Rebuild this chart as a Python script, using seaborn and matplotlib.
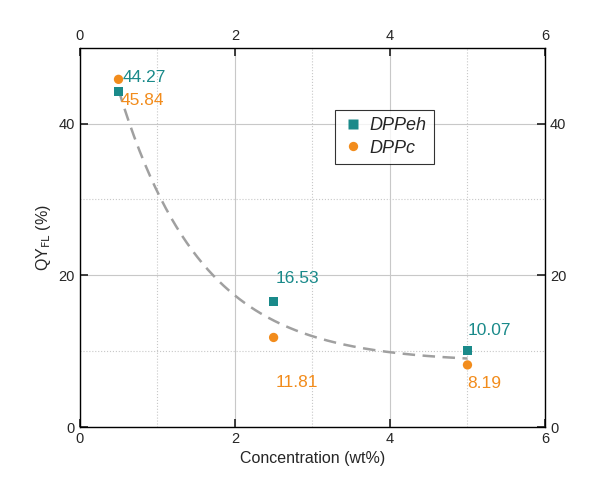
import numpy as np
import matplotlib
matplotlib.use("Agg")
import matplotlib.pyplot as plt
import seaborn as sns
import pandas as pd

conc = [0.5, 2.5, 5.0]
dppeh = [44.27, 16.53, 10.07]
dppc = [45.84, 11.81, 8.19]
fit_y0, fit_A, fit_t = 8.5, 57.4, 1.07

sns.set_theme(style="ticks")
plt.rcParams['font.family'] = ['Arial', 'Liberation Sans', 'DejaVu Sans']

fig = plt.figure(figsize=(5.95, 5.03), dpi=100)
ax = fig.add_axes([0.134, 0.151, 0.782, 0.754])

teal, orange = "#1a8a8a", "#f28c1c"
xf = np.linspace(0.5, 5.0, 200)
ax.plot(xf, fit_y0 + fit_A * np.exp(-xf / fit_t), ls=(0, (5, 3)), color="#a0a0a0", lw=1.8, zorder=2)

df = pd.DataFrame({"x": conc * 2, "y": dppeh + dppc,
                   "s": ["DPPeh"] * 3 + ["DPPc"] * 3})
sns.scatterplot(data=df, x="x", y="y", hue="s", style="s",
                markers={"DPPeh": "s", "DPPc": "o"},
                palette={"DPPeh": teal, "DPPc": orange}, s=45, edgecolor="none", ax=ax, zorder=3)

offs_eh = [(0.05, 1.8), (0.03, 3.0), (0.0, 2.7)]
offs_c = [(0.03, -2.8), (0.03, -6.0), (0.0, -2.5)]
for x, y, o in zip(conc, dppeh, offs_eh):
    ax.text(x + o[0], y + o[1], f"{y:.2f}", color=teal, fontsize=12.5, va="center")
for x, y, o in zip(conc, dppc, offs_c):
    ax.text(x + o[0], y + o[1], f"{y:.2f}", color=orange, fontsize=12.5, va="center")

ax.set_xlim(0, 6); ax.set_ylim(0, 50)
ax.set_xticks([0, 2, 4, 6]); ax.set_yticks([0, 20, 40])
ax.set_xticks([1, 3, 5], minor=True); ax.set_yticks([10, 30], minor=True)
ax.grid(True, which="major", color="#c8c8c8", lw=0.8)
ax.grid(True, which="minor", color="#c8c8c8", lw=0.8, ls=":")
ax.tick_params(which="both", direction="in", top=True, right=True,
               labeltop=True, labelright=True, labelsize=10.5)
ax.tick_params(which="minor", length=0)
for sp in ax.spines.values():
    sp.set_color("black"); sp.set_linewidth(1)
ax.set_xlabel("Concentration (wt%)", fontsize=11.5)
ax.set_ylabel("QY$_{\\mathrm{FL}}$ (%)", fontsize=11.5)
leg = ax.legend(loc="upper left", bbox_to_anchor=(0.53, 0.86),
                prop={"style": "italic", "size": 13}, frameon=True, fancybox=False,
                edgecolor="black", handletextpad=0.3, borderpad=0.4, labelspacing=0.3,
                handlelength=1.2)
leg.get_frame().set_linewidth(0.8)
fig.savefig("out.png", dpi=100)
